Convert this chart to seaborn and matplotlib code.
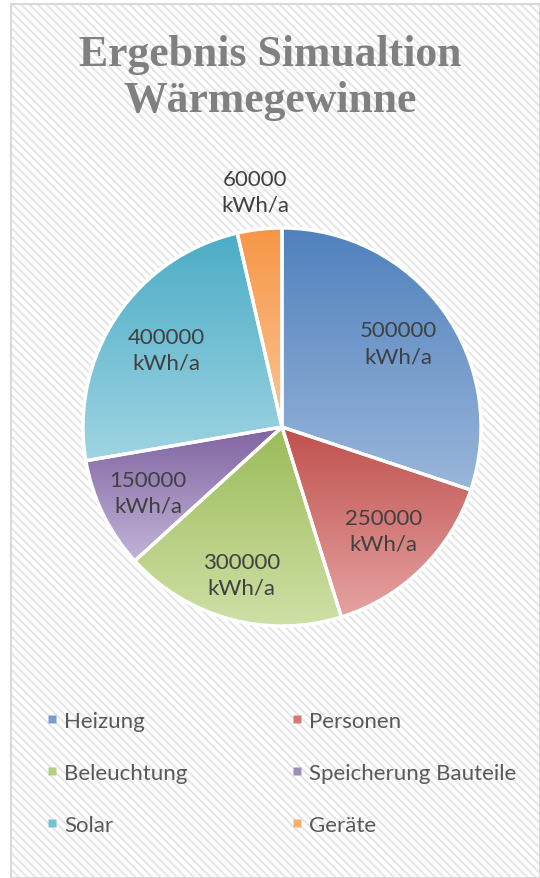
import numpy as np
import matplotlib
matplotlib.use("Agg")
import matplotlib.pyplot as plt
import seaborn as sns
from matplotlib.patches import Rectangle, Wedge
from matplotlib.lines import Line2D
from matplotlib.colors import to_rgb

# ---- data ----
categories = ["Heizung", "Personen", "Beleuchtung", "Speicherung Bauteile", "Solar", "Geräte"]
values = [500000, 250000, 300000, 150000, 400000, 60000]
unit = "kWh/a"
title = "Ergebnis Simualtion\nWärmegewinne"

# ---- styles ----
top_colors = ["#4F81BD", "#C0504D", "#9BBB59", "#8064A2", "#4BACC6", "#F79646"]
bottom_colors = ["#9AB6DA", "#E5A3A2", "#CFE0A6", "#C2B4D7", "#9FD4E2", "#FBC596"]
label_dist = [0.72, 0.73, 0.77, 0.75, 0.70, 1.19]

sns.set_theme(style="white")
plt.rcParams["font.family"] = ["Lato", "DejaVu Sans"]
plt.rcParams["hatch.linewidth"] = 1.4

fig = plt.figure(figsize=(5.4, 8.79), dpi=100)
fig.patch.set_facecolor("white")

W, H = 540, 879
bg = Rectangle((11 / W, 0), 1 - 11 / W, 1 - 5 / H, transform=fig.transFigure,
               facecolor="white", edgecolor="#E5E5E5", hatch="\\\\\\\\", lw=0, zorder=0)
fig.add_artist(bg)
border = Rectangle((11 / W, 0), 1 - 11 / W, 1 - 5 / H, transform=fig.transFigure,
                   facecolor="none", edgecolor="#D9D9D9", lw=1.5, zorder=0.5)
fig.add_artist(border)

# pie axes: centre (282,428) px, radius 199 px
lim = 1.25
r_px = 199
side = 2 * r_px * lim
cx, cy = 282, 428
ax = fig.add_axes([(cx - side / 2) / W, (H - cy - side / 2) / H, side / W, side / H])
ax.set_facecolor("none")

wedges, _ = ax.pie(values, startangle=90, counterclock=False, colors=top_colors,
                   wedgeprops=dict(edgecolor="white", linewidth=2.2), radius=1)

grad = np.linspace(0, 1, 256)[:, None, None]
for i, w in enumerate(wedges):
    ext = w.get_path().get_extents()
    top = np.array(to_rgb(top_colors[i]))[None, None, :]
    bot = np.array(to_rgb(bottom_colors[i]))[None, None, :]
    img = (1 - grad) * top + grad * bot
    im = ax.imshow(img, extent=[ext.x0, ext.x1, ext.y0, ext.y1], origin="upper",
                   aspect="auto", zorder=1.5, interpolation="bilinear")
    im.set_clip_path(w)
    ax.add_patch(Wedge(w.center, w.r, w.theta1, w.theta2, facecolor="none",
                       edgecolor="white", lw=2.4, zorder=3))
    mid = np.deg2rad((w.theta1 + w.theta2) / 2)
    d = label_dist[i]
    ax.text(d * np.cos(mid), d * np.sin(mid), f"{values[i]}\n{unit}", ha="center",
            va="center", fontsize=16, color="#404040", linespacing=1.35, zorder=4)

ax.set_xlim(-lim, lim)
ax.set_ylim(-lim, lim)
ax.set_aspect("equal")
ax.axis("off")

fig.text(0.5, 1 - 78 / H, title, ha="center", va="center", fontsize=31.5,
         fontweight="bold", family=["Liberation Serif", "DejaVu Serif"], color="#808080",
         linespacing=1.17)

# legend (row-wise order)
order = [0, 2, 4, 1, 3, 5]
handles = []
labels = []
for i in order:
    mid_col = tuple((np.array(to_rgb(top_colors[i])) + np.array(to_rgb(bottom_colors[i]))) / 2)
    handles.append(Line2D([], [], marker="s", linestyle="", markersize=6,
                          markerfacecolor=mid_col, markeredgecolor="none"))
    labels.append(categories[i])
fig.legend(handles, labels, ncol=2, loc="upper left",
           bbox_to_anchor=(44.2 / W, 1 - 712 / H), frameon=False, fontsize=16,
           labelcolor="#595959", handlelength=0.7, handletextpad=0.19,
           labelspacing=1.43, columnspacing=4.6, borderpad=0, borderaxespad=0)

fig.savefig("out.png", dpi=100)
